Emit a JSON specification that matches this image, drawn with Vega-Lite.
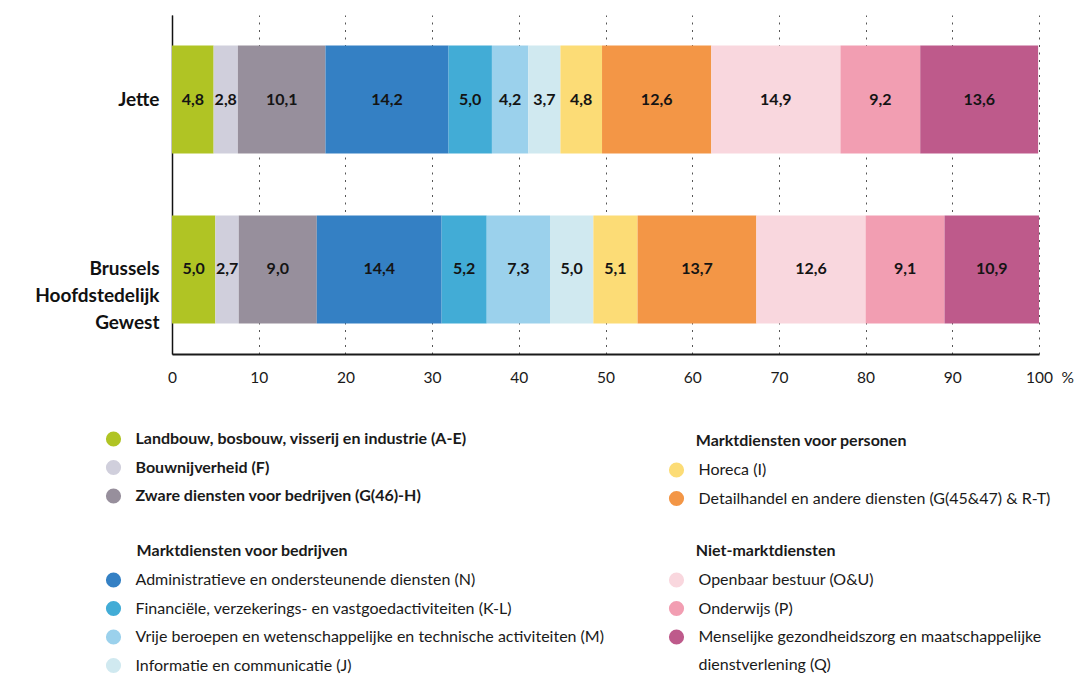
{
  "$schema": "https://vega.github.io/schema/vega-lite/v6.json",
  "width": 867,
  "height": 339,
  "autosize": {"type": "none"},
  "padding": {"left": 172, "top": 15, "right": 40, "bottom": 321},
  "background": "white",
  "config": {
    "view": {"stroke": null},
    "font": "Lato",
    "locale": {"number": {"decimal": ",", "thousands": ".", "grouping": [3], "currency": ["€", ""]}},
    "style": {"guide-label": {"lineHeight": 28}},
    "legend": {
      "symbolType": "circle",
      "symbolSize": 230,
      "symbolStrokeWidth": 0,
      "symbolOpacity": 1,
      "labelFont": "Lato",
      "labelFontSize": 16,
      "labelColor": "#1a1a1a",
      "titleFont": "Lato",
      "titleFontSize": 16,
      "titleColor": "#1a1a1a",
      "titleFontWeight": "bold",
      "rowPadding": 12.5,
      "labelOffset": 14,
      "padding": 0,
      "labelLimit": 700,
      "titleLimit": 700,
      "titlePadding": 13
    }
  },
  "data": {
    "values": [
      {"region": "Jette", "sector": "Landbouw, bosbouw, visserij en industrie (A-E)", "group": "g1", "order": 1, "value": 4.8},
      {"region": "Jette", "sector": "Bouwnijverheid (F)", "group": "g1", "order": 2, "value": 2.8},
      {"region": "Jette", "sector": "Zware diensten voor bedrijven (G(46)-H)", "group": "g1", "order": 3, "value": 10.1},
      {"region": "Jette", "sector": "Administratieve en ondersteunende diensten (N)", "group": "g2", "order": 4, "value": 14.2},
      {"region": "Jette", "sector": "Financiële, verzekerings- en vastgoedactiviteiten (K-L)", "group": "g2", "order": 5, "value": 5.0},
      {"region": "Jette", "sector": "Vrije beroepen en wetenschappelijke en technische activiteiten (M)", "group": "g2", "order": 6, "value": 4.2},
      {"region": "Jette", "sector": "Informatie en communicatie (J)", "group": "g2", "order": 7, "value": 3.7},
      {"region": "Jette", "sector": "Horeca (I)", "group": "g3", "order": 8, "value": 4.8},
      {"region": "Jette", "sector": "Detailhandel en andere diensten (G(45&47) & R-T)", "group": "g3", "order": 9, "value": 12.6},
      {"region": "Jette", "sector": "Openbaar bestuur (O&U)", "group": "g4", "order": 10, "value": 14.9},
      {"region": "Jette", "sector": "Onderwijs (P)", "group": "g4", "order": 11, "value": 9.2},
      {"region": "Jette", "sector": "Menselijke gezondheidszorg en maatschappelijke dienstverlening (Q)", "group": "g4", "order": 12, "value": 13.6},
      {"region": "Brussels Hoofdstedelijk Gewest", "sector": "Landbouw, bosbouw, visserij en industrie (A-E)", "group": "g1", "order": 1, "value": 5.0},
      {"region": "Brussels Hoofdstedelijk Gewest", "sector": "Bouwnijverheid (F)", "group": "g1", "order": 2, "value": 2.7},
      {"region": "Brussels Hoofdstedelijk Gewest", "sector": "Zware diensten voor bedrijven (G(46)-H)", "group": "g1", "order": 3, "value": 9.0},
      {"region": "Brussels Hoofdstedelijk Gewest", "sector": "Administratieve en ondersteunende diensten (N)", "group": "g2", "order": 4, "value": 14.4},
      {"region": "Brussels Hoofdstedelijk Gewest", "sector": "Financiële, verzekerings- en vastgoedactiviteiten (K-L)", "group": "g2", "order": 5, "value": 5.2},
      {"region": "Brussels Hoofdstedelijk Gewest", "sector": "Vrije beroepen en wetenschappelijke en technische activiteiten (M)", "group": "g2", "order": 6, "value": 7.3},
      {"region": "Brussels Hoofdstedelijk Gewest", "sector": "Informatie en communicatie (J)", "group": "g2", "order": 7, "value": 5.0},
      {"region": "Brussels Hoofdstedelijk Gewest", "sector": "Horeca (I)", "group": "g3", "order": 8, "value": 5.1},
      {"region": "Brussels Hoofdstedelijk Gewest", "sector": "Detailhandel en andere diensten (G(45&47) & R-T)", "group": "g3", "order": 9, "value": 13.7},
      {"region": "Brussels Hoofdstedelijk Gewest", "sector": "Openbaar bestuur (O&U)", "group": "g4", "order": 10, "value": 12.6},
      {"region": "Brussels Hoofdstedelijk Gewest", "sector": "Onderwijs (P)", "group": "g4", "order": 11, "value": 9.1},
      {"region": "Brussels Hoofdstedelijk Gewest", "sector": "Menselijke gezondheidszorg en maatschappelijke dienstverlening (Q)", "group": "g4", "order": 12, "value": 10.9}
    ]
  },
  "transform": [
    {"stack": "value", "groupby": ["region"], "sort": [{"field": "order", "order": "ascending"}], "as": ["x0", "x1"]},
    {"calculate": "(datum.x0 + datum.x1) / 2", "as": "mid"}
  ],
  "encoding": {
    "y": {
      "field": "region",
      "type": "nominal",
      "sort": ["Jette", "Brussels Hoofdstedelijk Gewest"],
      "scale": {"paddingInner": 0.365, "paddingOuter": 0.18},
      "title": null,
      "axis": {
        "domain": true,
        "domainColor": "#111111",
        "domainWidth": 1.5,
        "ticks": false,
        "grid": false,
        "labelFont": "Lato",
        "labelFontSize": 19,
        "labelFontWeight": "bold",
        "labelColor": "#111111",
        "labelPadding": 13,
        "labelLineHeight": 27,
        "labelExpr": "datum.value == 'Brussels Hoofdstedelijk Gewest' ? ['Brussels', 'Hoofdstedelijk', 'Gewest'] : datum.value"
      }
    },
    "x": {
      "field": "x0",
      "type": "quantitative",
      "scale": {"domain": [0, 100], "nice": false},
      "title": "%",
      "axis": {
        "values": [0, 10, 20, 30, 40, 50, 60, 70, 80, 90, 100],
        "domainColor": "#1a1a1a",
        "domainWidth": 1.8,
        "ticks": false,
        "labelFont": "Lato",
        "labelFontSize": 15.5,
        "labelColor": "#1a1a1a",
        "labelPadding": 16,
        "labelFlush": false,
        "grid": true,
        "gridColor": "#555555",
        "gridDash": [2, 5.5],
        "gridWidth": 1,
        "titleX": 889,
        "titleY": 16,
        "titleAlign": "left",
        "titleBaseline": "top",
        "titleFont": "Lato",
        "titleFontWeight": "normal",
        "titleFontSize": 15.5,
        "titleColor": "#1a1a1a"
      }
    },
    "x2": {"field": "x1"}
  },
  "layer": [
    {
      "transform": [{"filter": "datum.group == 'g1'"}],
      "mark": {"type": "bar"},
      "encoding": {
        "color": {
          "field": "sector",
          "type": "nominal",
          "scale": {
            "domain": ["Landbouw, bosbouw, visserij en industrie (A-E)", "Bouwnijverheid (F)", "Zware diensten voor bedrijven (G(46)-H)"],
            "range": ["#b0c424", "#d0cfdc", "#978f9c"]
          },
          "legend": {"orient": "none", "legendX": -66.5, "legendY": 416, "title": null, "labelFontWeight": "bold"}
        }
      }
    },
    {
      "transform": [{"filter": "datum.group == 'g2'"}],
      "mark": {"type": "bar"},
      "encoding": {
        "color": {
          "field": "sector",
          "type": "nominal",
          "scale": {
            "domain": ["Administratieve en ondersteunende diensten (N)", "Financiële, verzekerings- en vastgoedactiviteiten (K-L)", "Vrije beroepen en wetenschappelijke en technische activiteiten (M)", "Informatie en communicatie (J)"],
            "range": ["#3480c4", "#42acd6", "#9bd1ec", "#d0e9f0"]
          },
          "legend": {"orient": "none", "legendX": -66.5, "legendY": 528, "title": "\u200d\u00a0\u00a0\u00a0\u00a0\u00a0\u00a0\u00a0\u00a0Marktdiensten voor bedrijven"}
        }
      }
    },
    {
      "transform": [{"filter": "datum.group == 'g3'"}],
      "mark": {"type": "bar"},
      "encoding": {
        "color": {
          "field": "sector",
          "type": "nominal",
          "scale": {
            "domain": ["Horeca (I)", "Detailhandel en andere diensten (G(45&47) & R-T)"],
            "range": ["#fcdc76", "#f39646"]
          },
          "legend": {"orient": "none", "legendX": 496.5, "legendY": 418, "title": "\u200d\u00a0\u00a0\u00a0\u00a0\u00a0\u00a0\u00a0Marktdiensten voor personen"}
        }
      }
    },
    {
      "transform": [{"filter": "datum.group == 'g4'"}],
      "mark": {"type": "bar"},
      "encoding": {
        "color": {
          "field": "sector",
          "type": "nominal",
          "scale": {
            "domain": ["Openbaar bestuur (O&U)", "Onderwijs (P)", "Menselijke gezondheidszorg en maatschappelijke dienstverlening (Q)"],
            "range": ["#f9d7de", "#f29eb2", "#be5a8b"]
          },
          "legend": {
            "orient": "none", "legendX": 496.5, "legendY": 528,
            "title": "\u200d\u00a0\u00a0\u00a0\u00a0\u00a0\u00a0\u00a0Niet-marktdiensten",
            "labelExpr": "datum.label == 'Menselijke gezondheidszorg en maatschappelijke dienstverlening (Q)' ? ['Menselijke gezondheidszorg en maatschappelijke', 'dienstverlening (Q)'] : datum.label"
          }
        }
      }
    },
    {
      "mark": {"type": "text", "font": "Lato", "fontWeight": "bold", "fontSize": 16, "color": "#141414"},
      "encoding": {
        "x": {"field": "mid", "type": "quantitative", "title": "%"},
        "x2": null,
        "text": {"field": "value", "type": "quantitative", "format": ".1f"}
      }
    }
  ],
  "resolve": {"scale": {"color": "independent"}}
}
